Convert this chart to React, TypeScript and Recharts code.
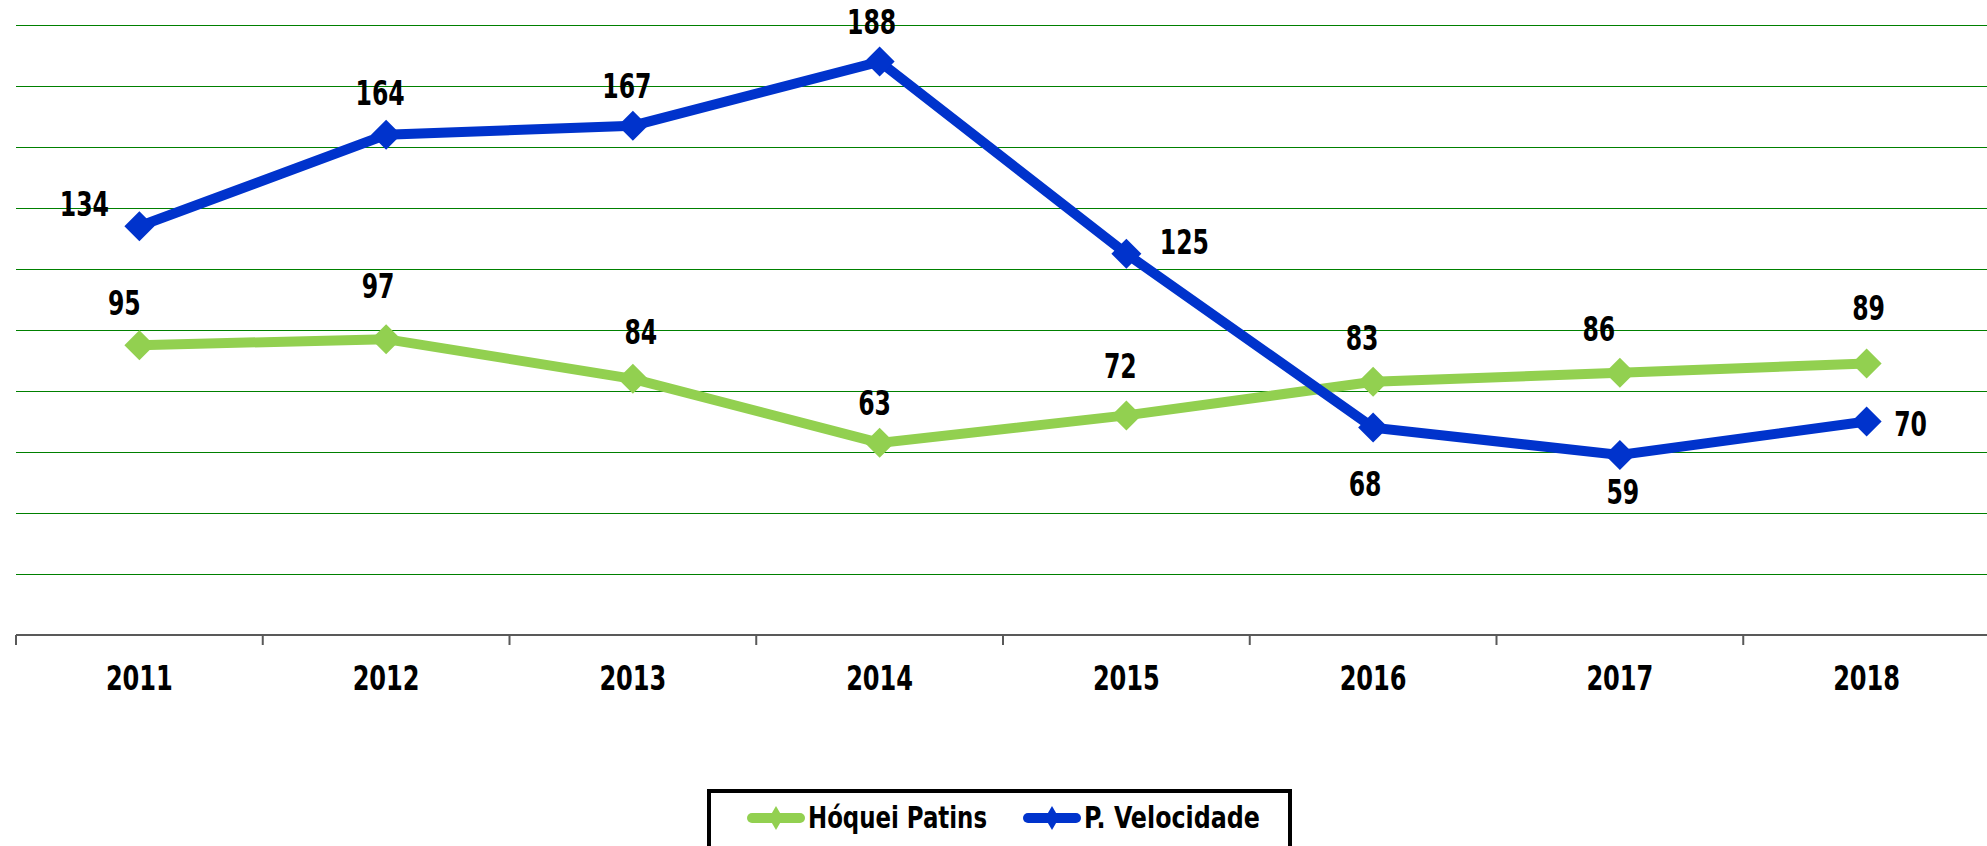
import React from "react";
import { LineChart, Line, XAxis, YAxis, CartesianGrid, Legend, LabelList } from "recharts";

const years = ["2011", "2012", "2013", "2014", "2015", "2016", "2017", "2018"];
const hoquei = [95, 97, 84, 63, 72, 83, 86, 89];
const velocidade = [134, 164, 167, 188, 125, 68, 59, 70];
const yTicks = [0, 20, 40, 60, 80, 100, 120, 140, 160, 180, 200];

// label nudges (dx, dy) from each point, as placed in the original
const hoqueiNudge = [[-15, -42], [-8, -53], [8, -47], [-5, -40], [-6, -49], [-11, -44], [-21, -44], [2, -56]];
const velocidadeNudge = [[-55, -22], [-6, -42], [-6, -40], [-8, -40], [58, -12], [-8, 56], [3, 37], [44, 2]];

const data = years.map((year, i) => ({ year, hoquei: hoquei[i], velocidade: velocidade[i] }));

const GREEN = "#92D050";
const BLUE = "#0033CC";
const FONT = "'DejaVu Sans Condensed', 'Liberation Sans Narrow', sans-serif";

const W = 1990;
const H = 846;
const LEFT = 16;
const STEP = (W - LEFT) / years.length;

function diamond(color: string) {
  return (p: any) => {
    const { cx, cy, index } = p;
    if (cx == null || cy == null) return <g key={index} />;
    return (
      <path
        key={index}
        d={`M${cx},${cy - 15}L${cx + 15},${cy}L${cx},${cy + 15}L${cx - 15},${cy}Z`}
        fill={color}
      />
    );
  };
}

function valueLabel(nudge: number[][]) {
  return (p: any) => {
    const { x, y, value, index } = p;
    const [dx, dy] = nudge[index] || [0, -40];
    const s = String(value);
    return (
      <text
        key={index}
        x={x + dx}
        y={y + dy + 12}
        textAnchor="middle"
        fontFamily={FONT}
        fontWeight="bold"
        fontSize={33}
        textLength={s.length * 16.4}
        lengthAdjust="spacingAndGlyphs"
        fill="#000"
      >
        {s}
      </text>
    );
  };
}

function YearTick(p: any) {
  const { x, y, payload } = p;
  return (
    <g>
      <line x1={x - STEP / 2} x2={x - STEP / 2} y1={y} y2={y + 10} stroke="#595959" strokeWidth={2} />
      <text
        x={x}
        y={y + 55}
        textAnchor="middle"
        fontFamily={FONT}
        fontWeight="bold"
        fontSize={34}
        textLength={67}
        lengthAdjust="spacingAndGlyphs"
        fill="#000"
      >
        {payload.value}
      </text>
    </g>
  );
}

function LegendIcon({ x, color }: { x: number; color: string }) {
  return (
    <g>
      <line x1={x + 5} x2={x + 53} y1={29} y2={29} stroke={color} strokeWidth={10} strokeLinecap="round" />
      <path d={`M${x + 29},${17}L${x + 36},${29}L${x + 29},${41}L${x + 22},${29}Z`} fill={color} />
    </g>
  );
}

function LegendBox() {
  return (
    <div
      style={{
        position: "relative",
        width: 585,
        height: 70,
        border: "4px solid #000",
        boxSizing: "border-box",
        background: "#fff",
      }}
    >
      <svg width={585} height={70} style={{ position: "absolute", left: -4, top: -4, overflow: "visible" }}>
        <LegendIcon x={40} color={GREEN} />
        <text x={101} y={39} fontFamily={FONT} fontWeight="bold" fontSize={31} textLength={179} lengthAdjust="spacingAndGlyphs">
          Hóquei Patins
        </text>
        <LegendIcon x={316} color={BLUE} />
        <text x={377} y={39} fontFamily={FONT} fontWeight="bold" fontSize={31} textLength={176} lengthAdjust="spacingAndGlyphs">
          P. Velocidade
        </text>
      </svg>
    </div>
  );
}

export default function App() {
  return (
    <div style={{ position: "absolute", left: 0, top: 0, width: 1987, height: H, overflow: "hidden", background: "#fff" }}>
      <LineChart width={W} height={H} data={data} margin={{ top: 25, right: 0, left: LEFT, bottom: 151 }}>
        <CartesianGrid vertical={false} stroke="#008000" strokeWidth={1} shapeRendering="crispEdges" />
        <XAxis
          dataKey="year"
          height={60}
          interval={0}
          padding={{ left: STEP / 2, right: STEP / 2 }}
          axisLine={{ stroke: "#595959", strokeWidth: 2 }}
          tickLine={false}
          tickSize={0}
          tickMargin={0}
          tick={<YearTick />}
        />
        <YAxis hide domain={[0, 200]} ticks={yTicks} />
        <Legend
          verticalAlign="middle"
          align="center"
          layout="horizontal"
          wrapperStyle={{ left: 707, top: 789, width: 585, height: 70 }}
          content={<LegendBox />}
        />
        <Line
          dataKey="hoquei"
          name="Hóquei Patins"
          stroke={GREEN}
          strokeWidth={10}
          dot={diamond(GREEN)}
          activeDot={false}
          isAnimationActive={false}
        >
          <LabelList dataKey="hoquei" content={valueLabel(hoqueiNudge)} />
        </Line>
        <Line
          dataKey="velocidade"
          name="P. Velocidade"
          stroke={BLUE}
          strokeWidth={10}
          dot={diamond(BLUE)}
          activeDot={false}
          isAnimationActive={false}
        >
          <LabelList dataKey="velocidade" content={valueLabel(velocidadeNudge)} />
        </Line>
      </LineChart>
    </div>
  );
}
